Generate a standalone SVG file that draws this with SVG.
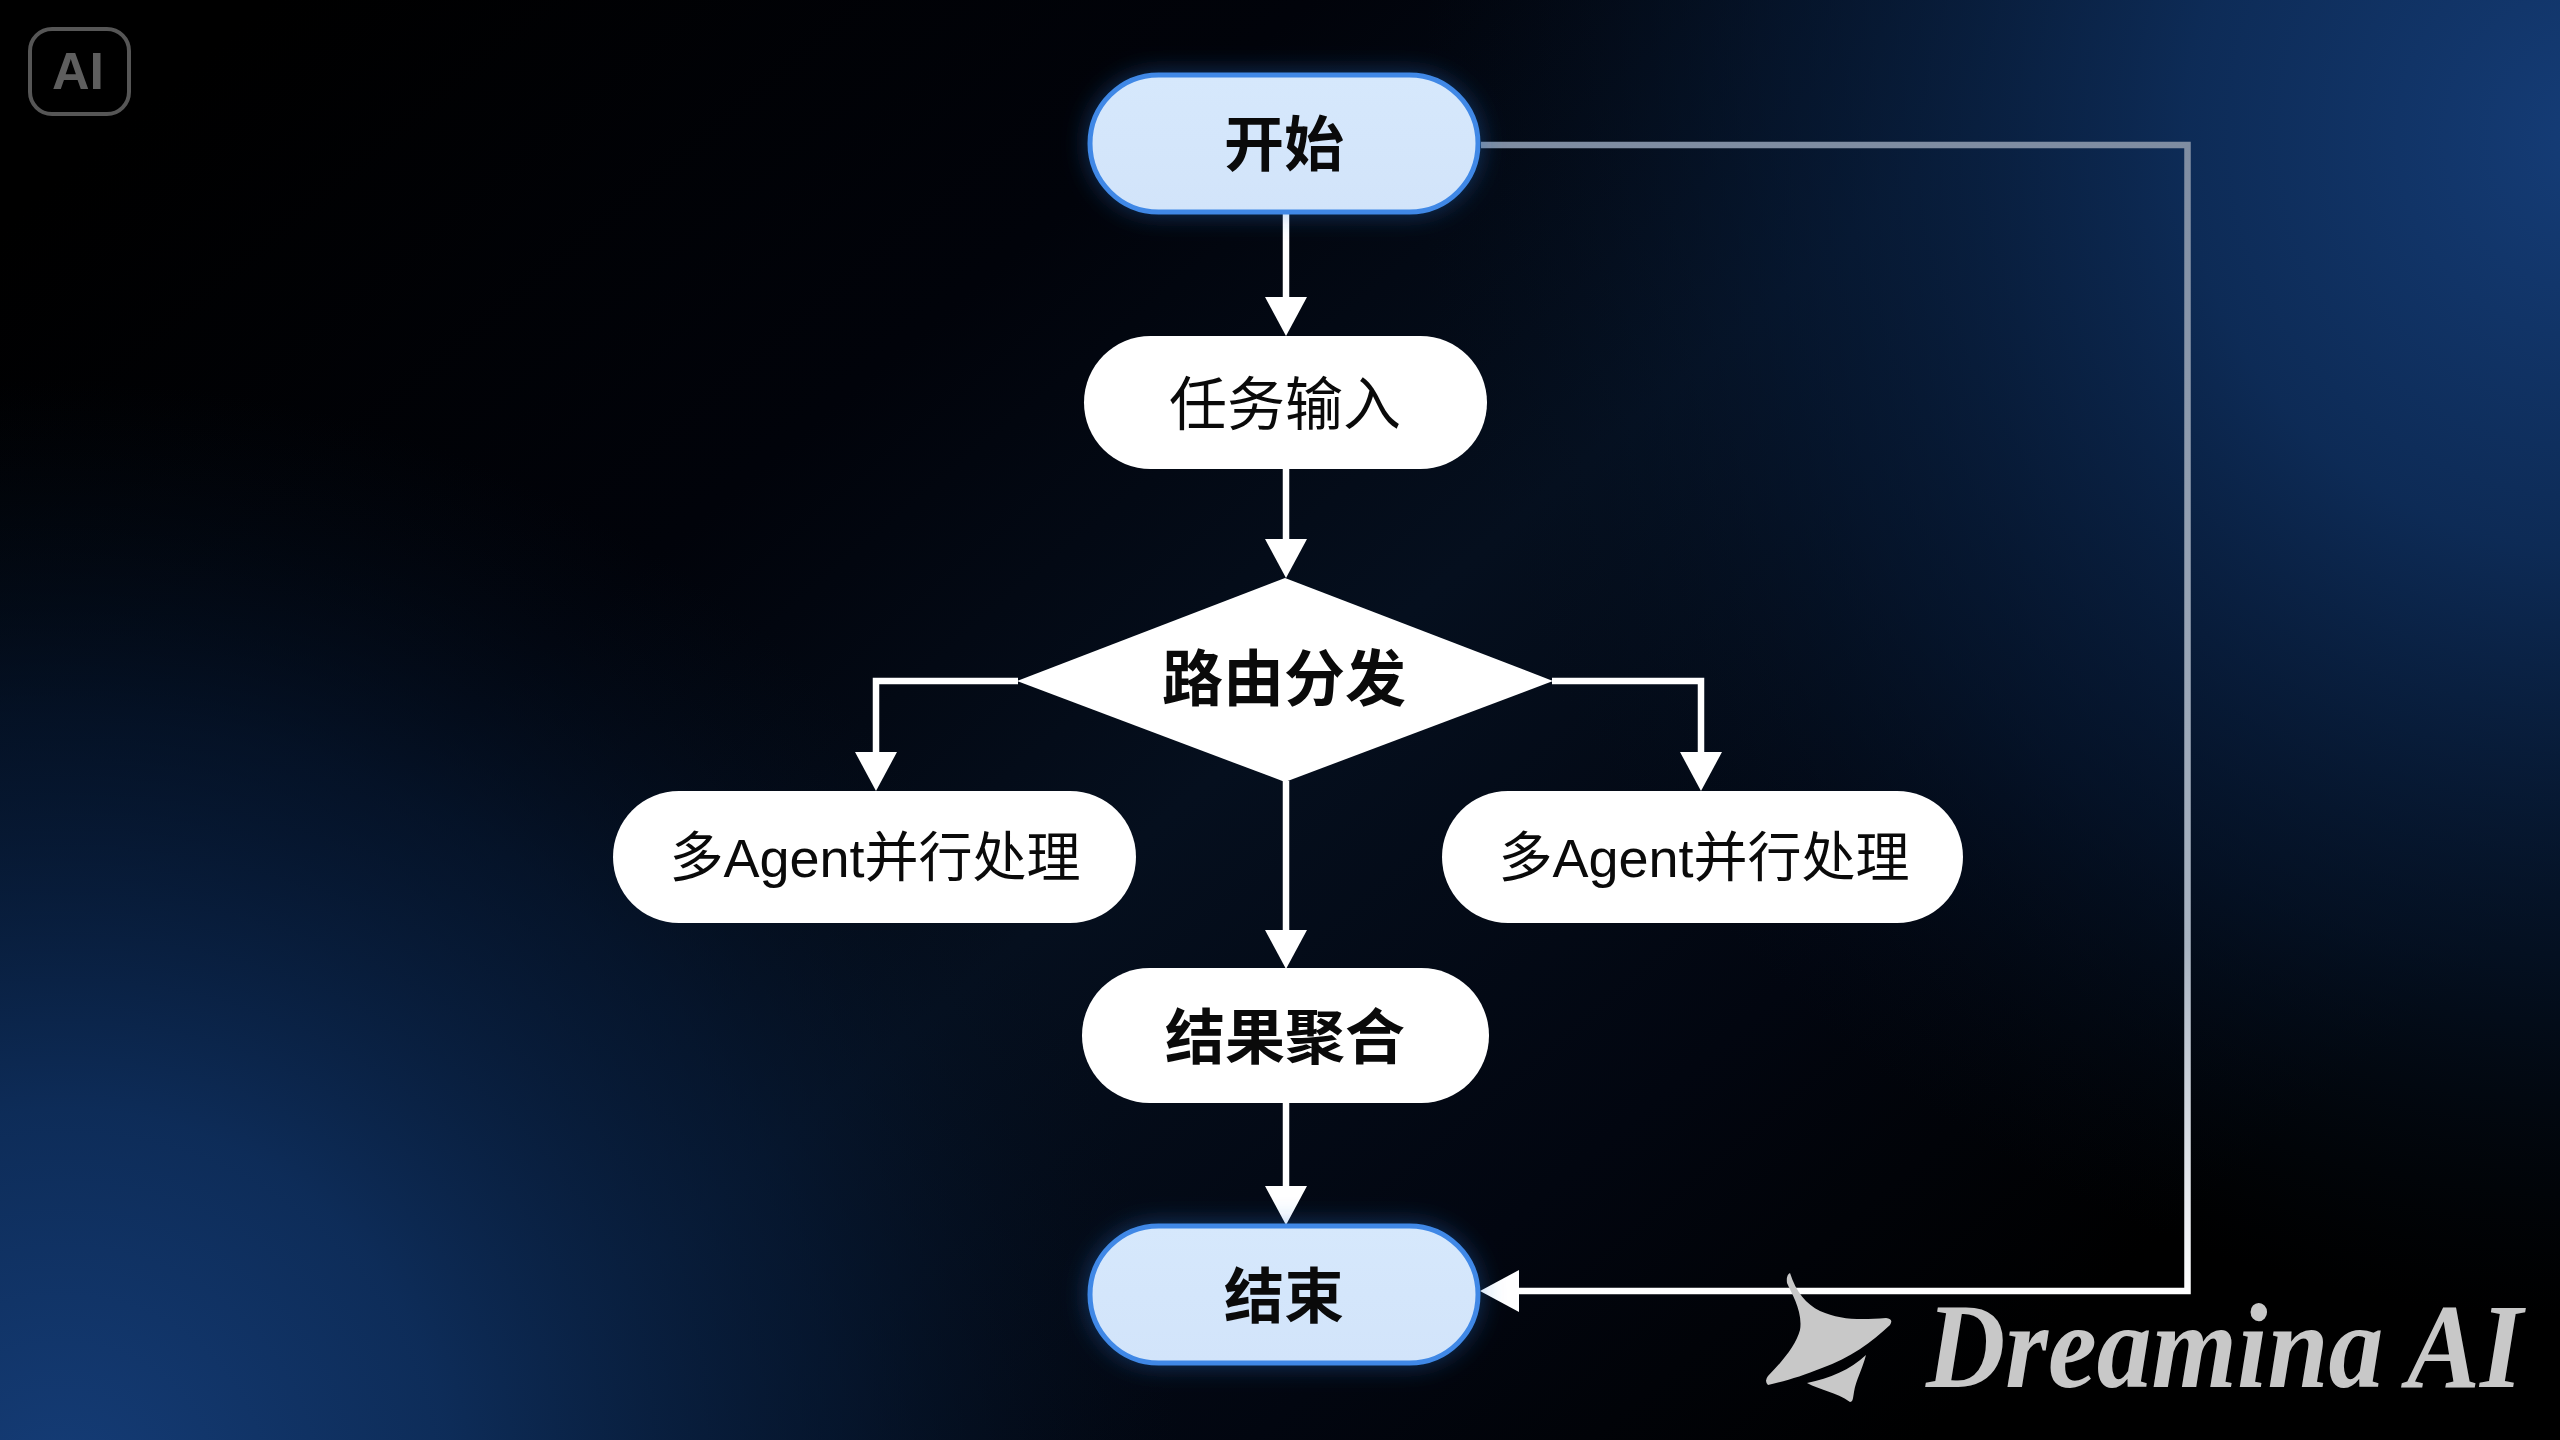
<svg xmlns="http://www.w3.org/2000/svg" width="2560" height="1440" viewBox="0 0 2560 1440">
<style>
.lbl{font-family:"Noto Sans CJK SC","Noto Sans",sans-serif;font-size:60px;fill:#0a0a0a;text-anchor:middle}
.b{font-weight:700}
.sm{font-family:"Liberation Sans","Noto Sans CJK SC",sans-serif;font-size:54px}
.pill{fill:#fff}
.term{fill:url(#termFill);stroke:#3f88e6;stroke-width:5;filter:url(#glow)}
.c{fill:none;stroke:#fff;stroke-width:6.5}
</style>
<defs>
<linearGradient id="band" gradientUnits="userSpaceOnUse" x1="500" y1="-200" x2="2060" y2="1640">
<stop offset="0" stop-color="#000"/><stop offset="0.28" stop-color="#01030a"/><stop offset="0.5" stop-color="#050f1e"/><stop offset="0.72" stop-color="#020610"/><stop offset="0.9" stop-color="#000"/>
</linearGradient>
<radialGradient id="tr" gradientUnits="userSpaceOnUse" cx="2600" cy="140" r="1180">
<stop offset="0" stop-color="#153d78"/><stop offset="0.35" stop-color="#0e2e5c" stop-opacity=".92"/><stop offset="0.7" stop-color="#071c3a" stop-opacity=".55"/><stop offset="1" stop-color="#041020" stop-opacity="0"/>
</radialGradient>
<radialGradient id="bl" gradientUnits="userSpaceOnUse" cx="60" cy="1500" r="1120">
<stop offset="0" stop-color="#153d78"/><stop offset="0.35" stop-color="#0e2e5c" stop-opacity=".95"/><stop offset="0.7" stop-color="#071c3a" stop-opacity=".6"/><stop offset="1" stop-color="#041020" stop-opacity="0"/>
</radialGradient>
<linearGradient id="termFill" x1="0" y1="0" x2="0" y2="1"><stop offset="0" stop-color="#d6e8fc"/><stop offset="1" stop-color="#d2e4fa"/></linearGradient>
<linearGradient id="fb" gradientUnits="userSpaceOnUse" x1="0" y1="144" x2="0" y2="1291"><stop offset="0" stop-color="#7f8da2"/><stop offset="0.7" stop-color="#a9b4c2"/><stop offset="1" stop-color="#ffffff"/></linearGradient>
<filter id="glow" x="-15%" y="-35%" width="130%" height="170%"><feDropShadow dx="0" dy="0" stdDeviation="12" flood-color="#2f7de0" flood-opacity=".4"/></filter>
<marker id="ah" markerUnits="userSpaceOnUse" markerWidth="40" markerHeight="42" refX="0" refY="21" orient="auto"><path d="M0 0L39 21L0 42Z" fill="#fff"/></marker>
</defs>
<rect width="2560" height="1440" fill="url(#band)"/>
<rect width="2560" height="1440" fill="url(#tr)"/>
<rect width="2560" height="1440" fill="url(#bl)"/>
<g id="connectors">
<path class="c" d="M1286 214V297" marker-end="url(#ah)"/>
<path class="c" d="M1286 469V539" marker-end="url(#ah)"/>
<path class="c" d="M1286 781V930" marker-end="url(#ah)"/>
<path class="c" d="M1286 1103V1186" marker-end="url(#ah)"/>
<path class="c" d="M1018 681H876V752" marker-end="url(#ah)"/>
<path class="c" d="M1552 681H1701V752" marker-end="url(#ah)"/>
<path class="c" style="stroke:url(#fb)" d="M1481 145H2187.500V1291H1519" marker-end="url(#ah)"/>
</g>
<g id="node-start"><rect class="term" x="1090" y="75" width="388" height="137" rx="68.500"/><text class="lbl b" x="1284" y="166">开始</text></g>
<g id="node-input"><rect class="pill" x="1084" y="336" width="403" height="133" rx="66.500"/><text class="lbl" style="font-size:58px" x="1285" y="425">任务输入</text></g>
<g id="node-route"><polygon fill="#fff" points="1017,681 1285,578 1553,681 1285,782"/><text class="lbl b" style="font-size:61px" x="1284" y="701">路由分发</text></g>
<g id="node-agent-left"><rect class="pill" x="613" y="791" width="523" height="132" rx="66"/><text class="lbl sm" x="875" y="877">多Agent并行处理</text></g>
<g id="node-agent-right"><rect class="pill" x="1442" y="791" width="521" height="132" rx="66"/><text class="lbl sm" x="1704" y="877">多Agent并行处理</text></g>
<g id="node-merge"><rect class="pill" x="1082" y="968" width="407" height="135" rx="67.500"/><text class="lbl b" x="1285" y="1059">结果聚合</text></g>
<g id="node-end"><rect class="term" x="1090" y="1226" width="388" height="137" rx="68.500"/><text class="lbl b" x="1284" y="1318">结束</text></g>
<g id="badge"><rect x="30" y="29" width="99" height="85" rx="22" fill="none" stroke="#565656" stroke-width="4"/><text x="78" y="89" font-family="'Liberation Sans',sans-serif" font-weight="700" font-size="52" fill="#5e5e5e" text-anchor="middle">AI</text></g>
<g id="watermark" fill="#c8c8c8">
<path d="M1790 1273C1796 1292 1806 1304 1820 1311C1840 1320 1860 1320 1886 1318Q1894 1319 1890 1325C1872 1342 1850 1358 1822 1368C1802 1376 1786 1381 1768 1385Q1764 1381 1768 1376C1782 1362 1796 1345 1800 1330C1803 1312 1792 1294 1787 1283Q1786 1275 1790 1273Z"/>
<path d="M1866 1355C1862 1370 1856 1380 1854 1392C1853 1398 1853 1402 1850 1402C1836 1392 1820 1390 1807 1383C1830 1378 1850 1370 1866 1355Z"/>
<text transform="translate(1926 1387) scale(.9 1)" font-family="'Liberation Serif',serif" font-style="italic" font-weight="700" font-size="120" textLength="663" lengthAdjust="spacingAndGlyphs">Dreamina AI</text>
</g>
</svg>
